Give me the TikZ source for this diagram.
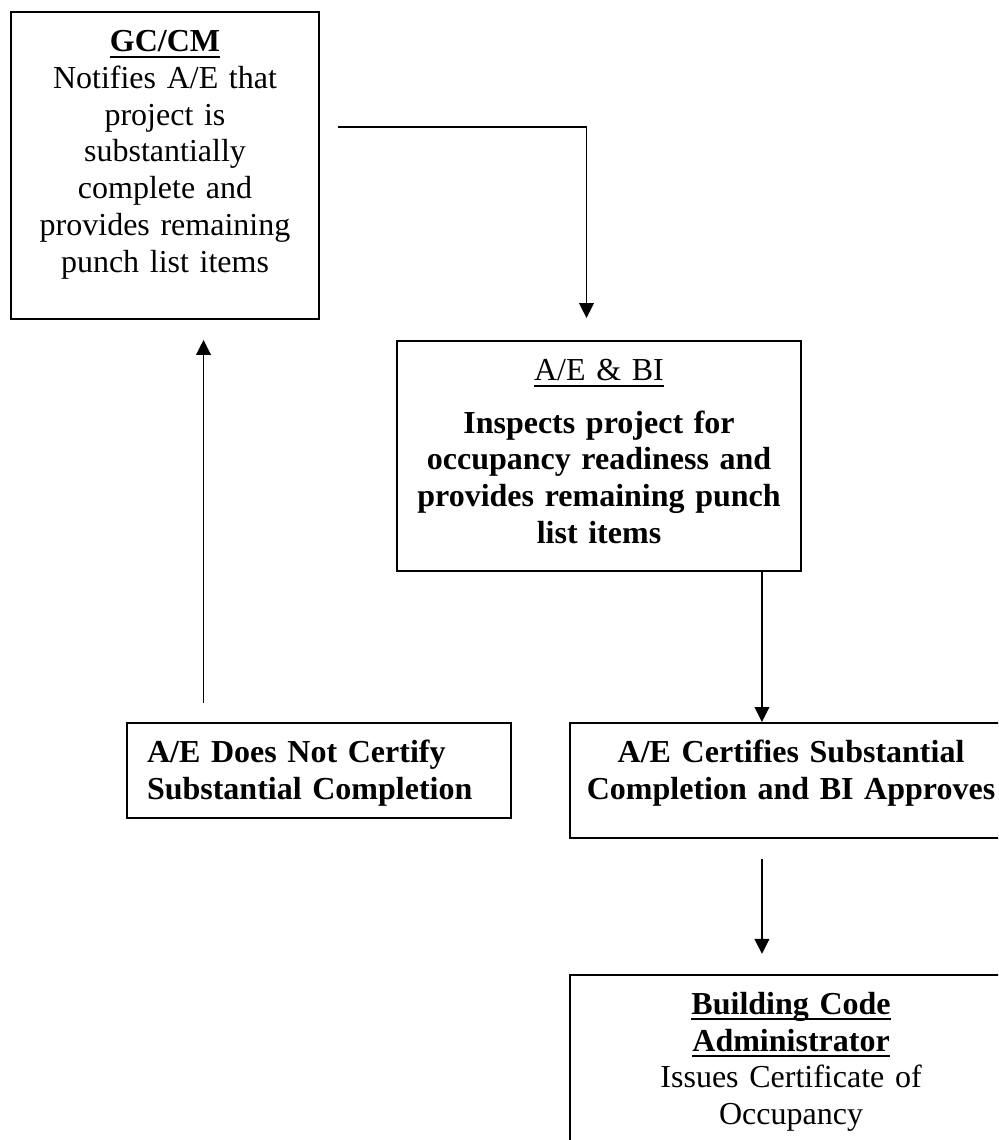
\documentclass[tikz,border=0pt]{standalone}
\usepackage{fontspec}
\setmainfont{Liberation Serif}
\usetikzlibrary{arrows.meta, positioning}
\newcommand{\hdline}[1]{\leavevmode\setbox0\hbox{#1}\rlap{\rule[-2.3pt]{\wd0}{0.75pt}}\box0}

\begin{document}
\begin{tikzpicture}[x=0.375pt, y=-0.375pt,
    >={Triangle[width=5.5pt,length=5.6pt]},
    box/.style={draw, line width=0.75pt, inner xsep=0pt, inner ysep=0pt,
      align=center, font=\fontsize{12pt}{13.8pt}\selectfont, text height=14.8pt},
    flow/.style={->, line width=0.55pt}]

    \useasboundingbox (0,0) rectangle (998,1140);
    \clip (0,0) rectangle (998,1140);

    \node[box, anchor=north west, text width=115.5pt, text depth=100.3pt] (gccm) at (10,11)
      {\hdline{\textbf{GC/CM}}\\ Notifies A/E that\\ project is\\ substantially\\
       complete and\\ provides remaining\\ punch list items};
    \node[box, below right=7.5pt and 28.5pt of gccm, text width=151.5pt, text depth=71.4pt] (aebi)
      {\hdline{A/E \& BI}\\[6pt] {\bfseries Inspects project for\\ occupancy readiness and\\
       provides remaining punch\\ list items}};
    \node[box, anchor=north west, align=left, inner xsep=7.5pt, text width=129pt,
      text depth=20.8pt] (nocert) at (126,722)
      {\bfseries A/E Does Not Certify\\ Substantial Completion};
    \node[box, right=21.4pt of nocert.north east, anchor=north west, text width=165.75pt,
      text depth=28.3pt] (cert)
      {\bfseries A/E Certifies Substantial\\ Completion and BI Approves};
    \node[box, below=50.6pt of cert, text width=165.75pt, text depth=60pt] (bca)
      {\hdline{\textbf{Building Code}}\\ \hdline{\textbf{Administrator}}\\
       Issues Certificate of\\ Occupancy};

    \coordinate (lead) at (338,127);
    \coordinate (leadend) at (586.5,318);

    \draw[flow] (lead) -| (leadend);
    \draw[flow] ([xshift=61.1pt]aebi.south) coordinate (drop) -- (drop |- cert.north);
    \draw[flow, shorten <=7.5pt, shorten >=7.5pt] (drop |- cert.south) -- (drop |- bca.north);
    \draw[flow, shorten <=7.1pt, shorten >=7.5pt] ([xshift=-43.3pt]nocert.north) coordinate (rise)
      -- (rise |- gccm.south);
\end{tikzpicture}
\end{document}
